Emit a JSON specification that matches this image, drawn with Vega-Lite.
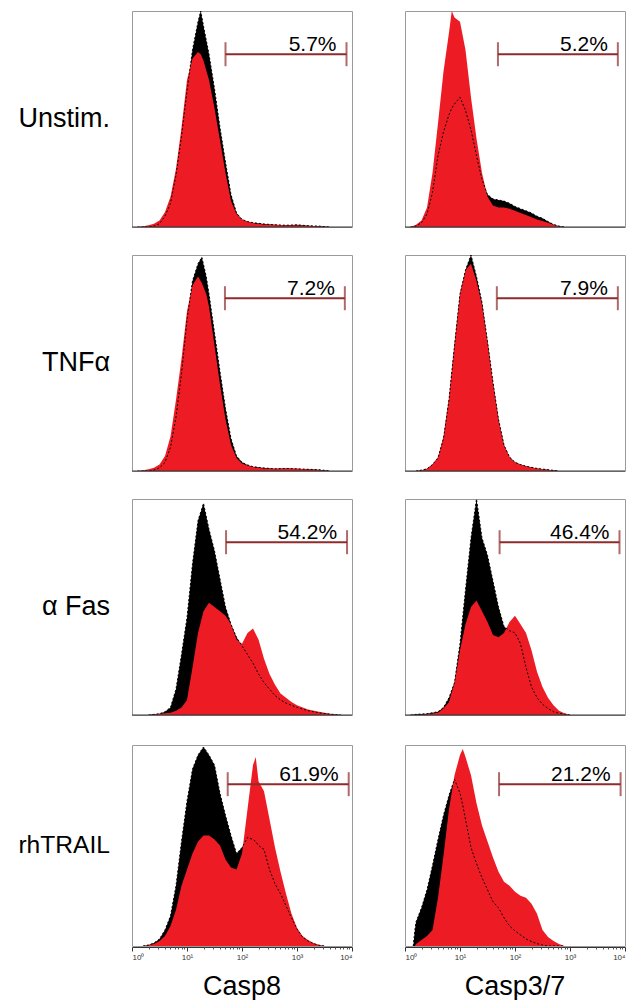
{
  "$schema": "https://vega.github.io/schema/vega-lite/v6.json",
  "background": "white",
  "padding": {"left": 17, "top": 10, "right": 1, "bottom": 0},
  "config": {
    "font": "Liberation Sans",
    "view": {"stroke": "#9a9a9a", "strokeWidth": 1}
  },
  "datasets": {
    "h": [
      {"r":"Unstim.","c":"Casp8","x":0.1,"k":0,"d":0},
      {"r":"Unstim.","c":"Casp8","x":0.2,"k":0,"d":0.004},
      {"r":"Unstim.","c":"Casp8","x":0.3,"k":0,"d":0.008},
      {"r":"Unstim.","c":"Casp8","x":0.4,"k":0.004,"d":0.015},
      {"r":"Unstim.","c":"Casp8","x":0.5,"k":0.015,"d":0.03},
      {"r":"Unstim.","c":"Casp8","x":0.6,"k":0.05,"d":0.07},
      {"r":"Unstim.","c":"Casp8","x":0.7,"k":0.11,"d":0.14},
      {"r":"Unstim.","c":"Casp8","x":0.8,"k":0.24,"d":0.27},
      {"r":"Unstim.","c":"Casp8","x":0.9,"k":0.42,"d":0.46},
      {"r":"Unstim.","c":"Casp8","x":1.0,"k":0.63,"d":0.68},
      {"r":"Unstim.","c":"Casp8","x":1.1,"k":0.82,"d":0.78},
      {"r":"Unstim.","c":"Casp8","x":1.2,"k":0.95,"d":0.81},
      {"r":"Unstim.","c":"Casp8","x":1.25,"k":1.0,"d":0.8},
      {"r":"Unstim.","c":"Casp8","x":1.3,"k":0.93,"d":0.77},
      {"r":"Unstim.","c":"Casp8","x":1.4,"k":0.8,"d":0.68},
      {"r":"Unstim.","c":"Casp8","x":1.5,"k":0.64,"d":0.55},
      {"r":"Unstim.","c":"Casp8","x":1.6,"k":0.46,"d":0.4},
      {"r":"Unstim.","c":"Casp8","x":1.7,"k":0.3,"d":0.25},
      {"r":"Unstim.","c":"Casp8","x":1.8,"k":0.15,"d":0.12},
      {"r":"Unstim.","c":"Casp8","x":1.9,"k":0.065,"d":0.06},
      {"r":"Unstim.","c":"Casp8","x":2.0,"k":0.035,"d":0.035},
      {"r":"Unstim.","c":"Casp8","x":2.1,"k":0.025,"d":0.025},
      {"r":"Unstim.","c":"Casp8","x":2.2,"k":0.02,"d":0.018},
      {"r":"Unstim.","c":"Casp8","x":2.4,"k":0.014,"d":0.012},
      {"r":"Unstim.","c":"Casp8","x":2.6,"k":0.01,"d":0.01},
      {"r":"Unstim.","c":"Casp8","x":2.8,"k":0.008,"d":0.008},
      {"r":"Unstim.","c":"Casp8","x":3.0,"k":0.01,"d":0.008},
      {"r":"Unstim.","c":"Casp8","x":3.2,"k":0.006,"d":0.006},
      {"r":"Unstim.","c":"Casp8","x":3.4,"k":0.004,"d":0.004},
      {"r":"Unstim.","c":"Casp8","x":3.6,"k":0,"d":0},

      {"r":"Unstim.","c":"Casp3/7","x":0.1,"k":0,"d":0},
      {"r":"Unstim.","c":"Casp3/7","x":0.2,"k":0.004,"d":0.01},
      {"r":"Unstim.","c":"Casp3/7","x":0.3,"k":0.02,"d":0.03},
      {"r":"Unstim.","c":"Casp3/7","x":0.4,"k":0.06,"d":0.09},
      {"r":"Unstim.","c":"Casp3/7","x":0.5,"k":0.16,"d":0.25},
      {"r":"Unstim.","c":"Casp3/7","x":0.6,"k":0.33,"d":0.48},
      {"r":"Unstim.","c":"Casp3/7","x":0.7,"k":0.44,"d":0.72},
      {"r":"Unstim.","c":"Casp3/7","x":0.8,"k":0.52,"d":0.9},
      {"r":"Unstim.","c":"Casp3/7","x":0.85,"k":0.55,"d":1.0},
      {"r":"Unstim.","c":"Casp3/7","x":0.9,"k":0.57,"d":0.97},
      {"r":"Unstim.","c":"Casp3/7","x":1.0,"k":0.6,"d":0.95},
      {"r":"Unstim.","c":"Casp3/7","x":1.1,"k":0.54,"d":0.82},
      {"r":"Unstim.","c":"Casp3/7","x":1.2,"k":0.45,"d":0.6},
      {"r":"Unstim.","c":"Casp3/7","x":1.3,"k":0.33,"d":0.41},
      {"r":"Unstim.","c":"Casp3/7","x":1.4,"k":0.22,"d":0.25},
      {"r":"Unstim.","c":"Casp3/7","x":1.5,"k":0.15,"d":0.14},
      {"r":"Unstim.","c":"Casp3/7","x":1.6,"k":0.13,"d":0.1},
      {"r":"Unstim.","c":"Casp3/7","x":1.7,"k":0.125,"d":0.09},
      {"r":"Unstim.","c":"Casp3/7","x":1.8,"k":0.12,"d":0.09},
      {"r":"Unstim.","c":"Casp3/7","x":1.9,"k":0.11,"d":0.085},
      {"r":"Unstim.","c":"Casp3/7","x":2.0,"k":0.095,"d":0.075},
      {"r":"Unstim.","c":"Casp3/7","x":2.1,"k":0.085,"d":0.065},
      {"r":"Unstim.","c":"Casp3/7","x":2.2,"k":0.075,"d":0.055},
      {"r":"Unstim.","c":"Casp3/7","x":2.3,"k":0.065,"d":0.045},
      {"r":"Unstim.","c":"Casp3/7","x":2.4,"k":0.05,"d":0.035},
      {"r":"Unstim.","c":"Casp3/7","x":2.5,"k":0.04,"d":0.028},
      {"r":"Unstim.","c":"Casp3/7","x":2.6,"k":0.025,"d":0.02},
      {"r":"Unstim.","c":"Casp3/7","x":2.7,"k":0.012,"d":0.01},
      {"r":"Unstim.","c":"Casp3/7","x":2.8,"k":0.004,"d":0.004},
      {"r":"Unstim.","c":"Casp3/7","x":2.9,"k":0,"d":0},

      {"r":"TNFα","c":"Casp8","x":0.1,"k":0,"d":0},
      {"r":"TNFα","c":"Casp8","x":0.2,"k":0,"d":0.004},
      {"r":"TNFα","c":"Casp8","x":0.3,"k":0,"d":0.008},
      {"r":"TNFα","c":"Casp8","x":0.4,"k":0.004,"d":0.015},
      {"r":"TNFα","c":"Casp8","x":0.5,"k":0.015,"d":0.03},
      {"r":"TNFα","c":"Casp8","x":0.6,"k":0.04,"d":0.07},
      {"r":"TNFα","c":"Casp8","x":0.7,"k":0.11,"d":0.16},
      {"r":"TNFα","c":"Casp8","x":0.8,"k":0.25,"d":0.33},
      {"r":"TNFα","c":"Casp8","x":0.9,"k":0.45,"d":0.52},
      {"r":"TNFα","c":"Casp8","x":1.0,"k":0.7,"d":0.74},
      {"r":"TNFα","c":"Casp8","x":1.1,"k":0.88,"d":0.86},
      {"r":"TNFα","c":"Casp8","x":1.2,"k":0.96,"d":0.9},
      {"r":"TNFα","c":"Casp8","x":1.27,"k":0.99,"d":0.87},
      {"r":"TNFα","c":"Casp8","x":1.35,"k":0.9,"d":0.82},
      {"r":"TNFα","c":"Casp8","x":1.4,"k":0.82,"d":0.76},
      {"r":"TNFα","c":"Casp8","x":1.5,"k":0.64,"d":0.58},
      {"r":"TNFα","c":"Casp8","x":1.6,"k":0.46,"d":0.4},
      {"r":"TNFα","c":"Casp8","x":1.7,"k":0.29,"d":0.24},
      {"r":"TNFα","c":"Casp8","x":1.8,"k":0.15,"d":0.12},
      {"r":"TNFα","c":"Casp8","x":1.9,"k":0.07,"d":0.06},
      {"r":"TNFα","c":"Casp8","x":2.0,"k":0.04,"d":0.035},
      {"r":"TNFα","c":"Casp8","x":2.1,"k":0.028,"d":0.025},
      {"r":"TNFα","c":"Casp8","x":2.2,"k":0.02,"d":0.018},
      {"r":"TNFα","c":"Casp8","x":2.4,"k":0.014,"d":0.012},
      {"r":"TNFα","c":"Casp8","x":2.6,"k":0.01,"d":0.01},
      {"r":"TNFα","c":"Casp8","x":2.8,"k":0.012,"d":0.012},
      {"r":"TNFα","c":"Casp8","x":3.0,"k":0.01,"d":0.01},
      {"r":"TNFα","c":"Casp8","x":3.2,"k":0.008,"d":0.008},
      {"r":"TNFα","c":"Casp8","x":3.4,"k":0.006,"d":0.005},
      {"r":"TNFα","c":"Casp8","x":3.6,"k":0,"d":0},

      {"r":"TNFα","c":"Casp3/7","x":0.2,"k":0,"d":0},
      {"r":"TNFα","c":"Casp3/7","x":0.3,"k":0.004,"d":0.004},
      {"r":"TNFα","c":"Casp3/7","x":0.4,"k":0.01,"d":0.01},
      {"r":"TNFα","c":"Casp3/7","x":0.5,"k":0.03,"d":0.03},
      {"r":"TNFα","c":"Casp3/7","x":0.6,"k":0.06,"d":0.065},
      {"r":"TNFα","c":"Casp3/7","x":0.7,"k":0.15,"d":0.16},
      {"r":"TNFα","c":"Casp3/7","x":0.8,"k":0.33,"d":0.34},
      {"r":"TNFα","c":"Casp3/7","x":0.9,"k":0.58,"d":0.59},
      {"r":"TNFα","c":"Casp3/7","x":1.0,"k":0.82,"d":0.82},
      {"r":"TNFα","c":"Casp3/7","x":1.1,"k":0.93,"d":0.93},
      {"r":"TNFα","c":"Casp3/7","x":1.2,"k":1.0,"d":0.96},
      {"r":"TNFα","c":"Casp3/7","x":1.3,"k":0.9,"d":0.88},
      {"r":"TNFα","c":"Casp3/7","x":1.4,"k":0.78,"d":0.77},
      {"r":"TNFα","c":"Casp3/7","x":1.5,"k":0.6,"d":0.6},
      {"r":"TNFα","c":"Casp3/7","x":1.6,"k":0.41,"d":0.41},
      {"r":"TNFα","c":"Casp3/7","x":1.7,"k":0.24,"d":0.24},
      {"r":"TNFα","c":"Casp3/7","x":1.8,"k":0.12,"d":0.12},
      {"r":"TNFα","c":"Casp3/7","x":1.9,"k":0.065,"d":0.065},
      {"r":"TNFα","c":"Casp3/7","x":2.0,"k":0.04,"d":0.04},
      {"r":"TNFα","c":"Casp3/7","x":2.1,"k":0.03,"d":0.03},
      {"r":"TNFα","c":"Casp3/7","x":2.2,"k":0.022,"d":0.022},
      {"r":"TNFα","c":"Casp3/7","x":2.4,"k":0.012,"d":0.012},
      {"r":"TNFα","c":"Casp3/7","x":2.6,"k":0.006,"d":0.006},
      {"r":"TNFα","c":"Casp3/7","x":2.8,"k":0,"d":0},

      {"r":"α Fas","c":"Casp8","x":0.3,"k":0,"d":0},
      {"r":"α Fas","c":"Casp8","x":0.4,"k":0.003,"d":0.003},
      {"r":"α Fas","c":"Casp8","x":0.5,"k":0.006,"d":0.006},
      {"r":"α Fas","c":"Casp8","x":0.6,"k":0.015,"d":0.008},
      {"r":"α Fas","c":"Casp8","x":0.7,"k":0.035,"d":0.01},
      {"r":"α Fas","c":"Casp8","x":0.8,"k":0.12,"d":0.02},
      {"r":"α Fas","c":"Casp8","x":0.9,"k":0.28,"d":0.035},
      {"r":"α Fas","c":"Casp8","x":1.0,"k":0.45,"d":0.07},
      {"r":"α Fas","c":"Casp8","x":1.1,"k":0.7,"d":0.22},
      {"r":"α Fas","c":"Casp8","x":1.2,"k":0.9,"d":0.38},
      {"r":"α Fas","c":"Casp8","x":1.3,"k":0.98,"d":0.48},
      {"r":"α Fas","c":"Casp8","x":1.4,"k":0.86,"d":0.52},
      {"r":"α Fas","c":"Casp8","x":1.5,"k":0.76,"d":0.5},
      {"r":"α Fas","c":"Casp8","x":1.6,"k":0.63,"d":0.48},
      {"r":"α Fas","c":"Casp8","x":1.7,"k":0.5,"d":0.46},
      {"r":"α Fas","c":"Casp8","x":1.8,"k":0.42,"d":0.42},
      {"r":"α Fas","c":"Casp8","x":1.9,"k":0.36,"d":0.35},
      {"r":"α Fas","c":"Casp8","x":2.0,"k":0.32,"d":0.33},
      {"r":"α Fas","c":"Casp8","x":2.1,"k":0.28,"d":0.38},
      {"r":"α Fas","c":"Casp8","x":2.2,"k":0.24,"d":0.4},
      {"r":"α Fas","c":"Casp8","x":2.3,"k":0.19,"d":0.35},
      {"r":"α Fas","c":"Casp8","x":2.4,"k":0.15,"d":0.26},
      {"r":"α Fas","c":"Casp8","x":2.5,"k":0.12,"d":0.19},
      {"r":"α Fas","c":"Casp8","x":2.6,"k":0.09,"d":0.14},
      {"r":"α Fas","c":"Casp8","x":2.7,"k":0.07,"d":0.1},
      {"r":"α Fas","c":"Casp8","x":2.8,"k":0.055,"d":0.08},
      {"r":"α Fas","c":"Casp8","x":2.9,"k":0.045,"d":0.06},
      {"r":"α Fas","c":"Casp8","x":3.0,"k":0.035,"d":0.045},
      {"r":"α Fas","c":"Casp8","x":3.2,"k":0.02,"d":0.025},
      {"r":"α Fas","c":"Casp8","x":3.4,"k":0.01,"d":0.015},
      {"r":"α Fas","c":"Casp8","x":3.6,"k":0.004,"d":0.006},
      {"r":"α Fas","c":"Casp8","x":3.8,"k":0,"d":0},

      {"r":"α Fas","c":"Casp3/7","x":0.1,"k":0,"d":0},
      {"r":"α Fas","c":"Casp3/7","x":0.2,"k":0.003,"d":0},
      {"r":"α Fas","c":"Casp3/7","x":0.4,"k":0.006,"d":0.004},
      {"r":"α Fas","c":"Casp3/7","x":0.6,"k":0.015,"d":0.01},
      {"r":"α Fas","c":"Casp3/7","x":0.7,"k":0.035,"d":0.03},
      {"r":"α Fas","c":"Casp3/7","x":0.8,"k":0.08,"d":0.06},
      {"r":"α Fas","c":"Casp3/7","x":0.9,"k":0.15,"d":0.15},
      {"r":"α Fas","c":"Casp3/7","x":1.0,"k":0.33,"d":0.3},
      {"r":"α Fas","c":"Casp3/7","x":1.1,"k":0.58,"d":0.42},
      {"r":"α Fas","c":"Casp3/7","x":1.2,"k":0.82,"d":0.5},
      {"r":"α Fas","c":"Casp3/7","x":1.3,"k":1.0,"d":0.53},
      {"r":"α Fas","c":"Casp3/7","x":1.4,"k":0.82,"d":0.48},
      {"r":"α Fas","c":"Casp3/7","x":1.5,"k":0.74,"d":0.43},
      {"r":"α Fas","c":"Casp3/7","x":1.6,"k":0.62,"d":0.37},
      {"r":"α Fas","c":"Casp3/7","x":1.7,"k":0.5,"d":0.36},
      {"r":"α Fas","c":"Casp3/7","x":1.8,"k":0.41,"d":0.38},
      {"r":"α Fas","c":"Casp3/7","x":1.9,"k":0.39,"d":0.43},
      {"r":"α Fas","c":"Casp3/7","x":2.0,"k":0.38,"d":0.46},
      {"r":"α Fas","c":"Casp3/7","x":2.1,"k":0.33,"d":0.42},
      {"r":"α Fas","c":"Casp3/7","x":2.2,"k":0.22,"d":0.38},
      {"r":"α Fas","c":"Casp3/7","x":2.3,"k":0.13,"d":0.3},
      {"r":"α Fas","c":"Casp3/7","x":2.4,"k":0.08,"d":0.2},
      {"r":"α Fas","c":"Casp3/7","x":2.5,"k":0.05,"d":0.13},
      {"r":"α Fas","c":"Casp3/7","x":2.6,"k":0.03,"d":0.08},
      {"r":"α Fas","c":"Casp3/7","x":2.7,"k":0.015,"d":0.045},
      {"r":"α Fas","c":"Casp3/7","x":2.8,"k":0.008,"d":0.02},
      {"r":"α Fas","c":"Casp3/7","x":2.9,"k":0.004,"d":0.008},
      {"r":"α Fas","c":"Casp3/7","x":3.0,"k":0,"d":0},

      {"r":"rhTRAIL","c":"Casp8","x":0.2,"k":0,"d":0},
      {"r":"rhTRAIL","c":"Casp8","x":0.3,"k":0.005,"d":0.004},
      {"r":"rhTRAIL","c":"Casp8","x":0.4,"k":0.015,"d":0.01},
      {"r":"rhTRAIL","c":"Casp8","x":0.5,"k":0.035,"d":0.025},
      {"r":"rhTRAIL","c":"Casp8","x":0.6,"k":0.08,"d":0.05},
      {"r":"rhTRAIL","c":"Casp8","x":0.7,"k":0.15,"d":0.1},
      {"r":"rhTRAIL","c":"Casp8","x":0.8,"k":0.3,"d":0.18},
      {"r":"rhTRAIL","c":"Casp8","x":0.9,"k":0.52,"d":0.3},
      {"r":"rhTRAIL","c":"Casp8","x":1.0,"k":0.72,"d":0.38},
      {"r":"rhTRAIL","c":"Casp8","x":1.1,"k":0.88,"d":0.46},
      {"r":"rhTRAIL","c":"Casp8","x":1.2,"k":0.95,"d":0.52},
      {"r":"rhTRAIL","c":"Casp8","x":1.3,"k":0.99,"d":0.55},
      {"r":"rhTRAIL","c":"Casp8","x":1.4,"k":0.95,"d":0.55},
      {"r":"rhTRAIL","c":"Casp8","x":1.5,"k":0.9,"d":0.53},
      {"r":"rhTRAIL","c":"Casp8","x":1.6,"k":0.76,"d":0.5},
      {"r":"rhTRAIL","c":"Casp8","x":1.7,"k":0.65,"d":0.43},
      {"r":"rhTRAIL","c":"Casp8","x":1.8,"k":0.55,"d":0.39},
      {"r":"rhTRAIL","c":"Casp8","x":1.9,"k":0.46,"d":0.38},
      {"r":"rhTRAIL","c":"Casp8","x":2.0,"k":0.49,"d":0.46},
      {"r":"rhTRAIL","c":"Casp8","x":2.1,"k":0.54,"d":0.68},
      {"r":"rhTRAIL","c":"Casp8","x":2.2,"k":0.53,"d":0.9},
      {"r":"rhTRAIL","c":"Casp8","x":2.25,"k":0.52,"d":0.94},
      {"r":"rhTRAIL","c":"Casp8","x":2.3,"k":0.5,"d":0.82},
      {"r":"rhTRAIL","c":"Casp8","x":2.4,"k":0.48,"d":0.77},
      {"r":"rhTRAIL","c":"Casp8","x":2.5,"k":0.38,"d":0.63},
      {"r":"rhTRAIL","c":"Casp8","x":2.6,"k":0.31,"d":0.49},
      {"r":"rhTRAIL","c":"Casp8","x":2.7,"k":0.26,"d":0.37},
      {"r":"rhTRAIL","c":"Casp8","x":2.8,"k":0.2,"d":0.26},
      {"r":"rhTRAIL","c":"Casp8","x":2.9,"k":0.14,"d":0.16},
      {"r":"rhTRAIL","c":"Casp8","x":3.0,"k":0.085,"d":0.09},
      {"r":"rhTRAIL","c":"Casp8","x":3.1,"k":0.045,"d":0.05},
      {"r":"rhTRAIL","c":"Casp8","x":3.2,"k":0.025,"d":0.03},
      {"r":"rhTRAIL","c":"Casp8","x":3.3,"k":0.012,"d":0.015},
      {"r":"rhTRAIL","c":"Casp8","x":3.4,"k":0.004,"d":0.005},
      {"r":"rhTRAIL","c":"Casp8","x":3.5,"k":0,"d":0},

      {"r":"rhTRAIL","c":"Casp3/7","x":0.15,"k":0,"d":0},
      {"r":"rhTRAIL","c":"Casp3/7","x":0.18,"k":0.08,"d":0},
      {"r":"rhTRAIL","c":"Casp3/7","x":0.2,"k":0.12,"d":0.01},
      {"r":"rhTRAIL","c":"Casp3/7","x":0.3,"k":0.19,"d":0.03},
      {"r":"rhTRAIL","c":"Casp3/7","x":0.4,"k":0.28,"d":0.05},
      {"r":"rhTRAIL","c":"Casp3/7","x":0.5,"k":0.4,"d":0.08},
      {"r":"rhTRAIL","c":"Casp3/7","x":0.6,"k":0.53,"d":0.24},
      {"r":"rhTRAIL","c":"Casp3/7","x":0.7,"k":0.65,"d":0.45},
      {"r":"rhTRAIL","c":"Casp3/7","x":0.8,"k":0.75,"d":0.68},
      {"r":"rhTRAIL","c":"Casp3/7","x":0.9,"k":0.83,"d":0.85},
      {"r":"rhTRAIL","c":"Casp3/7","x":1.0,"k":0.76,"d":0.95},
      {"r":"rhTRAIL","c":"Casp3/7","x":1.05,"k":0.7,"d":0.98},
      {"r":"rhTRAIL","c":"Casp3/7","x":1.1,"k":0.63,"d":0.94},
      {"r":"rhTRAIL","c":"Casp3/7","x":1.2,"k":0.49,"d":0.85},
      {"r":"rhTRAIL","c":"Casp3/7","x":1.3,"k":0.41,"d":0.71},
      {"r":"rhTRAIL","c":"Casp3/7","x":1.4,"k":0.34,"d":0.6},
      {"r":"rhTRAIL","c":"Casp3/7","x":1.5,"k":0.28,"d":0.52},
      {"r":"rhTRAIL","c":"Casp3/7","x":1.6,"k":0.22,"d":0.44},
      {"r":"rhTRAIL","c":"Casp3/7","x":1.7,"k":0.19,"d":0.37},
      {"r":"rhTRAIL","c":"Casp3/7","x":1.8,"k":0.14,"d":0.32},
      {"r":"rhTRAIL","c":"Casp3/7","x":1.9,"k":0.1,"d":0.3},
      {"r":"rhTRAIL","c":"Casp3/7","x":2.0,"k":0.075,"d":0.27},
      {"r":"rhTRAIL","c":"Casp3/7","x":2.1,"k":0.055,"d":0.25},
      {"r":"rhTRAIL","c":"Casp3/7","x":2.2,"k":0.035,"d":0.24},
      {"r":"rhTRAIL","c":"Casp3/7","x":2.3,"k":0.022,"d":0.21},
      {"r":"rhTRAIL","c":"Casp3/7","x":2.4,"k":0.012,"d":0.16},
      {"r":"rhTRAIL","c":"Casp3/7","x":2.5,"k":0.005,"d":0.08},
      {"r":"rhTRAIL","c":"Casp3/7","x":2.6,"k":0,"d":0.045},
      {"r":"rhTRAIL","c":"Casp3/7","x":2.7,"k":0,"d":0.025},
      {"r":"rhTRAIL","c":"Casp3/7","x":2.8,"k":0,"d":0.01},
      {"r":"rhTRAIL","c":"Casp3/7","x":2.9,"k":0,"d":0},

      {"r":"Unstim.","c":"Casp8","lo":1.70,"hi":3.90,"gy":0.8,"pct":"5.7%"},
      {"r":"Unstim.","c":"Casp3/7","lo":1.69,"hi":3.87,"gy":0.8,"pct":"5.2%"},
      {"r":"TNFα","c":"Casp8","lo":1.69,"hi":3.87,"gy":0.8,"pct":"7.2%"},
      {"r":"TNFα","c":"Casp3/7","lo":1.67,"hi":3.87,"gy":0.8,"pct":"7.9%"},
      {"r":"α Fas","c":"Casp8","lo":1.71,"hi":3.91,"gy":0.8,"pct":"54.2%"},
      {"r":"α Fas","c":"Casp3/7","lo":1.72,"hi":3.90,"gy":0.8,"pct":"46.4%"},
      {"r":"rhTRAIL","c":"Casp8","lo":1.74,"hi":3.94,"gy":0.805,"pct":"61.9%"},
      {"r":"rhTRAIL","c":"Casp3/7","lo":1.71,"hi":3.92,"gy":0.805,"pct":"21.2%"}
    ]
  },
  "spacing": 28,
  "vconcat": [
    {
      "data": {"name": "h"},
      "transform": [{"filter": "datum.r != 'rhTRAIL'"}],
      "facet": {
        "row": {"field": "r", "type": "nominal", "sort": ["Unstim.", "TNFα", "α Fas"], "title": null, "header": {"labels": false}},
        "column": {"field": "c", "type": "nominal", "sort": ["Casp8", "Casp3/7"], "title": null, "header": {"labels": false}}
      },
      "spacing": {"row": 26, "column": 51},
      "spec": {
        "width": 220,
        "height": 216,
        "layer": [
          {"transform": [{"filter": "isValid(datum.k)"}],
           "mark": {"type": "area", "color": "black", "clip": true},
           "encoding": {
             "x": {"field": "x", "type": "quantitative", "scale": {"domain": [0, 4], "nice": false}, "axis": null},
             "y": {"field": "k", "type": "quantitative", "scale": {"domain": [0, 1], "nice": false}, "axis": null}}},
          {"transform": [{"filter": "isValid(datum.d)"}],
           "mark": {"type": "area", "color": "#ED1C24", "clip": true},
           "encoding": {"x": {"field": "x", "type": "quantitative"}, "y": {"field": "d", "type": "quantitative"}}},
          {"transform": [{"filter": "isValid(datum.k)"}],
           "mark": {"type": "line", "color": "black", "strokeWidth": 1, "strokeDash": [2, 2], "clip": true},
           "encoding": {"x": {"field": "x", "type": "quantitative"}, "y": {"field": "k", "type": "quantitative"}}},
          {"transform": [{"filter": "isValid(datum.pct)"}],
           "mark": {"type": "rule", "color": "#333", "strokeWidth": 1},
           "encoding": {"y": {"datum": 0, "type": "quantitative"}}},
          {"transform": [{"filter": "isValid(datum.pct)"}],
           "mark": {"type": "rule", "color": "#8E2B2B", "strokeWidth": 2},
           "encoding": {"x": {"field": "lo", "type": "quantitative"}, "x2": {"field": "hi"}, "y": {"field": "gy", "type": "quantitative"}}},
          {"transform": [{"filter": "isValid(datum.pct)"}],
           "mark": {"type": "tick", "orient": "vertical", "color": "#8E2B2B", "size": 24, "thickness": 2},
           "encoding": {"x": {"field": "lo", "type": "quantitative"}, "y": {"field": "gy", "type": "quantitative"}}},
          {"transform": [{"filter": "isValid(datum.pct)"}],
           "mark": {"type": "tick", "orient": "vertical", "color": "#8E2B2B", "size": 24, "thickness": 2},
           "encoding": {"x": {"field": "hi", "type": "quantitative"}, "y": {"field": "gy", "type": "quantitative"}}},
          {"transform": [{"filter": "isValid(datum.pct)"}],
           "mark": {"type": "text", "align": "right", "baseline": "alphabetic", "dx": -10, "dy": -3, "fontSize": 21, "color": "black"},
           "encoding": {"x": {"field": "hi", "type": "quantitative"}, "y": {"field": "gy", "type": "quantitative"}, "text": {"field": "pct"}}},
          {"transform": [{"filter": "isValid(datum.pct) && datum.c == 'Casp8'"}],
           "mark": {"type": "text", "align": "right", "baseline": "middle", "fontSize": 27, "color": "black"},
           "encoding": {"x": {"datum": -0.4, "type": "quantitative"}, "y": {"datum": 0.5, "type": "quantitative"}, "text": {"field": "r"}}}
        ]
      }
    },
    {
      "data": {"name": "h"},
      "transform": [{"filter": "datum.r == 'rhTRAIL'"}],
      "facet": {
        "column": {"field": "c", "type": "nominal", "sort": ["Casp8", "Casp3/7"], "title": null,
          "header": {"orient": "bottom", "labelFontSize": 27, "labelPadding": 13, "labelColor": "black", "labelFont": "Liberation Sans"}}
      },
      "spacing": {"column": 51},
      "spec": {
        "width": 220,
        "height": 201,
        "resolve": {"axis": {"x": "independent"}},
        "layer": [
          {"transform": [{"filter": "isValid(datum.k)"}],
           "mark": {"type": "area", "color": "black", "clip": true},
           "encoding": {
             "x": {"field": "x", "type": "quantitative", "scale": {"domain": [0, 4], "nice": false},
               "axis": {"orient": "bottom", "values": [0, 1, 2, 3, 4], "labelExpr": "'10' + ['⁰','¹','²','³','⁴'][datum.value]", "labelFontSize": 8, "labelColor": "#333", "tickSize": 4, "tickColor": "#333", "labelPadding": 2, "grid": false, "domain": true, "domainColor": "#333", "title": null}},
             "y": {"field": "k", "type": "quantitative", "scale": {"domain": [0, 1], "nice": false}, "axis": null}}},
          {"transform": [{"filter": "isValid(datum.d)"}],
           "mark": {"type": "area", "color": "#ED1C24", "clip": true},
           "encoding": {"x": {"field": "x", "type": "quantitative",
               "axis": {"orient": "bottom", "values": [0.301, 0.477, 0.602, 0.699, 0.778, 0.845, 0.903, 0.954, 1.301, 1.477, 1.602, 1.699, 1.778, 1.845, 1.903, 1.954, 2.301, 2.477, 2.602, 2.699, 2.778, 2.845, 2.903, 2.954, 3.301, 3.477, 3.602, 3.699, 3.778, 3.845, 3.903, 3.954], "labels": false, "tickSize": 2, "tickColor": "#555", "domain": false, "grid": false, "title": null}},
             "y": {"field": "d", "type": "quantitative"}}},
          {"transform": [{"filter": "isValid(datum.k)"}],
           "mark": {"type": "line", "color": "black", "strokeWidth": 1, "strokeDash": [2, 2], "clip": true},
           "encoding": {"x": {"field": "x", "type": "quantitative", "axis": null}, "y": {"field": "k", "type": "quantitative"}}},
          {"transform": [{"filter": "isValid(datum.pct)"}],
           "mark": {"type": "rule", "color": "#8E2B2B", "strokeWidth": 2},
           "encoding": {"x": {"field": "lo", "type": "quantitative", "axis": null}, "x2": {"field": "hi"}, "y": {"field": "gy", "type": "quantitative"}}},
          {"transform": [{"filter": "isValid(datum.pct)"}],
           "mark": {"type": "tick", "orient": "vertical", "color": "#8E2B2B", "size": 24, "thickness": 2},
           "encoding": {"x": {"field": "lo", "type": "quantitative", "axis": null}, "y": {"field": "gy", "type": "quantitative"}}},
          {"transform": [{"filter": "isValid(datum.pct)"}],
           "mark": {"type": "tick", "orient": "vertical", "color": "#8E2B2B", "size": 24, "thickness": 2},
           "encoding": {"x": {"field": "hi", "type": "quantitative", "axis": null}, "y": {"field": "gy", "type": "quantitative"}}},
          {"transform": [{"filter": "isValid(datum.pct)"}],
           "mark": {"type": "text", "align": "right", "baseline": "alphabetic", "dx": -10, "dy": -3, "fontSize": 21, "color": "black"},
           "encoding": {"x": {"field": "hi", "type": "quantitative", "axis": null}, "y": {"field": "gy", "type": "quantitative"}, "text": {"field": "pct"}}},
          {"transform": [{"filter": "isValid(datum.pct) && datum.c == 'Casp8'"}],
           "mark": {"type": "text", "align": "right", "baseline": "middle", "fontSize": 24.6, "color": "black"},
           "encoding": {"x": {"datum": -0.4, "type": "quantitative", "axis": null}, "y": {"datum": 0.5, "type": "quantitative"}, "text": {"field": "r"}}}
        ]
      }
    }
  ]
}
